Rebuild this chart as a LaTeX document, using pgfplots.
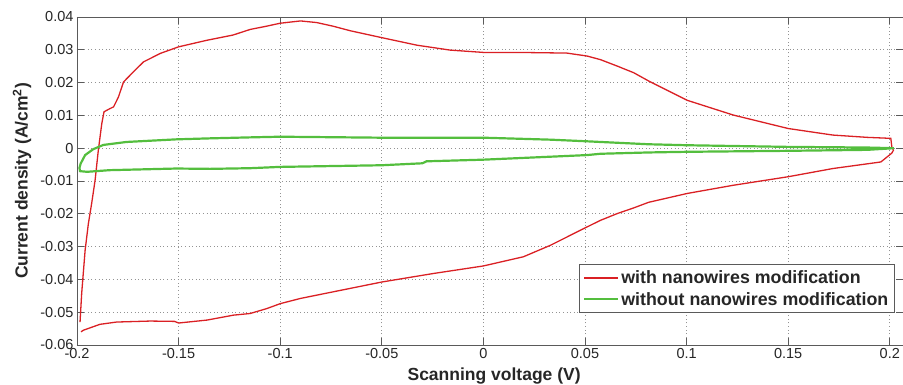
\documentclass[border=0pt]{standalone}
\usepackage{pgfplots}
\pgfplotsset{compat=1.18}
\usepackage{fontspec}
\setmainfont{Liberation Sans}
\definecolor{cvred}{RGB}{218,32,36}
\definecolor{cvgreen}{RGB}{84,190,62}
\definecolor{axgray}{RGB}{90,90,90}
\begin{document}
\begin{tikzpicture}
\begin{axis}[
  width=826pt, height=328pt, scale only axis,
  xmin=-0.2, xmax=0.2065, ymin=-0.06, ymax=0.04,
  xtick={-0.2,-0.15,-0.1,-0.05,0,0.05,0.1,0.15,0.2},
  xticklabels={-0.2,-0.15,-0.1,-0.05,0,0.05,0.1,0.15,0.2},
  ytick={-0.06,-0.05,-0.04,-0.03,-0.02,-0.01,0,0.01,0.02,0.03,0.04},
  yticklabels={-0.06,-0.05,-0.04,-0.03,-0.02,-0.01,0,0.01,0.02,0.03,0.04},
  scaled x ticks=false, scaled y ticks=false,
  tick align=inside, major tick length=7pt,
  tick style={axgray, line width=0.8pt},
  axis line style={axgray, line width=0.8pt},
  grid=major,
  major grid style={gray!85, line width=0.6pt, dash pattern=on 1pt off 2.6pt},
  ticklabel style={font=\fontsize{14.5}{17}\selectfont, text=black!85},
  /pgf/number format/assume math mode=true,
  xlabel={\bfseries Scanning voltage (V)},
  ylabel={\bfseries Current density (A/cm\textsuperscript{2})},
  xlabel style={at={(axis description cs:0.505,-0.0945)}, anchor=center, font=\fontsize{17.5}{20}\selectfont, text=black!85},
  ylabel style={at={(axis description cs:-0.0666,0.5)}, anchor=center, font=\fontsize{17.5}{20}\selectfont, text=black!85},
  legend style={at={(rel axis cs:0.990,0.0976)}, anchor=south east,
    draw=axgray, line width=0.8pt, fill=white,
    font=\fontsize{17.8}{20}\selectfont\bfseries, text=black!85,
    inner xsep=4pt, inner ysep=4pt, row sep=3pt,
    cells={anchor=west}},
  legend image code/.code={\draw[#1] (0pt,0pt) -- (34pt,0pt);},
  legend cell align=left,
]
\addplot[cvred, line width=1.3pt] coordinates {
(-0.1985,-0.0530) (-0.1977,-0.0443) (-0.1960,-0.0311) (-0.1944,-0.0230)
(-0.1928,-0.0169) (-0.1911,-0.0098) (-0.1895,-0.0006) (-0.1878,0.0075)
(-0.1867,0.0111) (-0.1840,0.0120) (-0.1820,0.0126) (-0.1796,0.0156)
(-0.1771,0.0202) (-0.1722,0.0233) (-0.1673,0.0263) (-0.1590,0.0289)
(-0.1500,0.0309) (-0.1361,0.0329) (-0.1232,0.0345) (-0.1148,0.0362)
(-0.1067,0.0372) (-0.1000,0.0381) (-0.0900,0.0388) (-0.0820,0.0383)
(-0.0740,0.0372) (-0.0655,0.0358) (-0.0500,0.0337) (-0.0327,0.0314)
(-0.0163,0.0299) (0.0000,0.0292) (0.0166,0.0292) (0.0410,0.0290)
(0.0510,0.0281) (0.0576,0.0270) (0.0660,0.0250) (0.0740,0.0230)
(0.0813,0.0205) (0.1003,0.0146) (0.1230,0.0101) (0.1500,0.0060)
(0.1720,0.0040) (0.1890,0.0033) (0.2005,0.0030) (0.2010,0.0004)
(0.2018,-0.0006) (0.2010,-0.0015) (0.1990,-0.0025) (0.1956,-0.0042)
(0.1720,-0.0062) (0.1500,-0.0087) (0.1230,-0.0113) (0.1003,-0.0138)
(0.0813,-0.0165) (0.0740,-0.0182) (0.0660,-0.0199) (0.0576,-0.0220)
(0.0494,-0.0245) (0.0330,-0.0296) (0.0197,-0.0331) (0.0000,-0.0359)
(-0.0246,-0.0382) (-0.0500,-0.0408) (-0.0820,-0.0448) (-0.0900,-0.0458)
(-0.1000,-0.0474) (-0.1066,-0.0489) (-0.1148,-0.0504) (-0.1230,-0.0509)
(-0.1360,-0.0524) (-0.1500,-0.0533) (-0.1520,-0.0528) (-0.1640,-0.0527)
(-0.1805,-0.0530) (-0.1887,-0.0537) (-0.1969,-0.0555) (-0.1980,-0.0560)
};
\addlegendentry{with nanowires modification}
\addplot[cvgreen, line width=2.2pt] coordinates {
(0.2020,0.0000) (0.1890,-0.0005) (0.1500,-0.0008) (0.1003,-0.0011)
(0.0813,-0.0013) (0.0576,-0.0017) (0.0510,-0.0021) (0.0000,-0.0035)
(-0.0280,-0.0040) (-0.0300,-0.0046) (-0.0500,-0.0052) (-0.1000,-0.0057)
(-0.1148,-0.0061) (-0.1345,-0.0063) (-0.1512,-0.0062) (-0.1840,-0.0067)
(-0.1950,-0.0072) (-0.1985,-0.0070) (-0.1988,-0.0060) (-0.1982,-0.0047)
(-0.1960,-0.0021) (-0.1920,-0.0003) (-0.1870,0.0010) (-0.1756,0.0019)
(-0.1510,0.0027) (-0.1345,0.0030) (-0.1148,0.0033) (-0.1000,0.0035)
(-0.0500,0.0032) (0.0000,0.0032) (0.0330,0.0026) (0.0510,0.0021)
(0.0576,0.0019) (0.0813,0.0012) (0.1003,0.0009) (0.1500,0.0004)
(0.1890,0.0002) (0.2020,0.0000)
};
\addlegendentry{without nanowires modification}
\end{axis}
\pgfresetboundingbox
\path ([xshift=-77pt,yshift=-40pt]current axis.south west) rectangle ([yshift=17pt]current axis.north east);
\end{tikzpicture}
\end{document}
